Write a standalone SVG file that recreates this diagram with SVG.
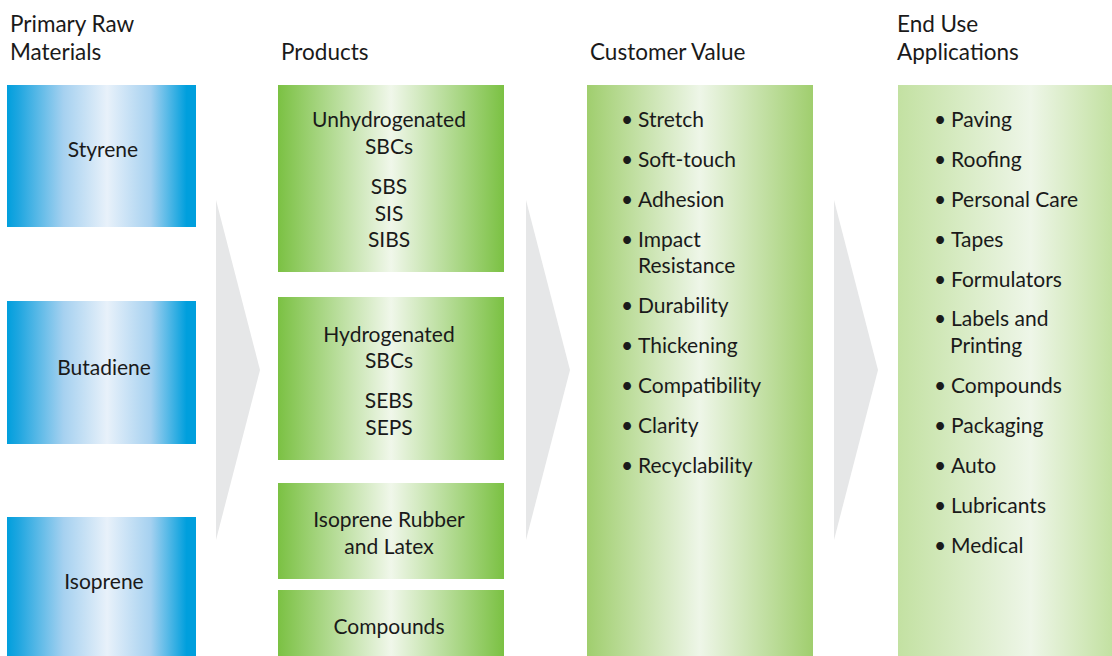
<svg xmlns="http://www.w3.org/2000/svg" width="1112" height="656" viewBox="0 0 1112 656">
<defs>
<linearGradient id="gBlue" x1="0" y1="0" x2="1" y2="0">
<stop offset="0" stop-color="#009fdd"/>
<stop offset="0.06" stop-color="#1ea6e0"/>
<stop offset="0.3" stop-color="#a6d1f0"/>
<stop offset="0.53" stop-color="#e8f1fa"/>
<stop offset="0.76" stop-color="#a6d1f0"/>
<stop offset="0.95" stop-color="#009fdd"/>
<stop offset="1" stop-color="#009fdd"/>
</linearGradient>
<linearGradient id="gProd" x1="0" y1="0" x2="1" y2="0">
<stop offset="0" stop-color="#7bc143"/>
<stop offset="0.5" stop-color="#f0f7ea"/>
<stop offset="1" stop-color="#7bc143"/>
</linearGradient>
<linearGradient id="gCust" x1="0" y1="0" x2="1" y2="0">
<stop offset="0" stop-color="#a0ce6e"/>
<stop offset="0.5" stop-color="#eef6e8"/>
<stop offset="1" stop-color="#a0ce6e"/>
</linearGradient>
<linearGradient id="gEnd" x1="0" y1="0" x2="1" y2="0">
<stop offset="0" stop-color="#c3e1a2"/>
<stop offset="0.62" stop-color="#eef6e8"/>
<stop offset="1" stop-color="#c3e1a2"/>
</linearGradient>
</defs>
<style>
text{font-family:Lato,"Liberation Sans",sans-serif;font-size:21px;fill:#1a1a1a}
.h{font-size:22.5px}
.c{text-anchor:middle}
.arrow{fill:#e6e7e8}
</style>
<rect width="1112" height="656" fill="#fff"/>

<g id="connectors">
<polygon class="arrow" points="216,200 260,370 216,540"/>
<polygon class="arrow" points="526,200 570,370 526,540"/>
<polygon class="arrow" points="834,200 878,370 834,540"/>
</g>

<g id="headers">
<text class="h" x="10" y="32">Primary Raw</text>
<text class="h" x="10" y="60">Materials</text>
<text class="h" x="281" y="60">Products</text>
<text class="h" x="590" y="60">Customer Value</text>
<text class="h" x="897" y="32">End Use</text>
<text class="h" x="897" y="60">Applications</text>
</g>

<g id="styrene">
<rect x="7" y="85" width="189" height="142" fill="url(#gBlue)"/>
<text class="c" x="103" y="157">Styrene</text>
</g>
<g id="butadiene">
<rect x="7" y="301" width="189" height="143" fill="url(#gBlue)"/>
<text class="c" x="104" y="375">Butadiene</text>
</g>
<g id="isoprene">
<rect x="7" y="517" width="189" height="139" fill="url(#gBlue)"/>
<text class="c" x="104" y="589">Isoprene</text>
</g>

<g id="unhydrogenated">
<rect x="278" y="85" width="226" height="187" fill="url(#gProd)"/>
<text class="c" x="389" y="127">Unhydrogenated</text>
<text class="c" x="389" y="154">SBCs</text>
<text class="c" x="389" y="194">SBS</text>
<text class="c" x="389" y="221">SIS</text>
<text class="c" x="389" y="247">SIBS</text>
</g>
<g id="hydrogenated">
<rect x="278" y="297" width="226" height="163" fill="url(#gProd)"/>
<text class="c" x="389" y="342">Hydrogenated</text>
<text class="c" x="389" y="368">SBCs</text>
<text class="c" x="389" y="408">SEBS</text>
<text class="c" x="389" y="435">SEPS</text>
</g>
<g id="isoprene-rubber">
<rect x="278" y="483" width="226" height="96" fill="url(#gProd)"/>
<text class="c" x="389" y="527">Isoprene Rubber</text>
<text class="c" x="389" y="554">and Latex</text>
</g>
<g id="compounds">
<rect x="278" y="590" width="226" height="66" fill="url(#gProd)"/>
<text class="c" x="389" y="634">Compounds</text>
</g>

<g id="customer-value">
<rect x="587" y="85" width="226" height="571" fill="url(#gCust)"/>
<text x="621" y="127">•</text><text x="638" y="127">Stretch</text>
<text x="621" y="167">•</text><text x="638" y="167">Soft-touch</text>
<text x="621" y="207">•</text><text x="638" y="207">Adhesion</text>
<text x="621" y="247">•</text><text x="638" y="247">Impact</text>
<text x="638" y="273">Resistance</text>
<text x="621" y="313">•</text><text x="638" y="313">Durability</text>
<text x="621" y="353">•</text><text x="638" y="353">Thickening</text>
<text x="621" y="393">•</text><text x="638" y="393">Compatibility</text>
<text x="621" y="433">•</text><text x="638" y="433">Clarity</text>
<text x="621" y="473">•</text><text x="638" y="473">Recyclability</text>
</g>

<g id="end-use">
<rect x="898" y="85" width="214" height="571" fill="url(#gEnd)"/>
<text x="934" y="127">•</text><text x="951" y="127">Paving</text>
<text x="934" y="167">•</text><text x="951" y="167">Roofing</text>
<text x="934" y="207">•</text><text x="951" y="207">Personal Care</text>
<text x="934" y="247">•</text><text x="951" y="247">Tapes</text>
<text x="934" y="287">•</text><text x="951" y="287">Formulators</text>
<text x="934" y="326">•</text><text x="951" y="326">Labels and</text>
<text x="950" y="353">Printing</text>
<text x="934" y="393">•</text><text x="951" y="393">Compounds</text>
<text x="934" y="433">•</text><text x="951" y="433">Packaging</text>
<text x="934" y="473">•</text><text x="951" y="473">Auto</text>
<text x="934" y="513">•</text><text x="951" y="513">Lubricants</text>
<text x="934" y="553">•</text><text x="951" y="553">Medical</text>
</g>
</svg>
